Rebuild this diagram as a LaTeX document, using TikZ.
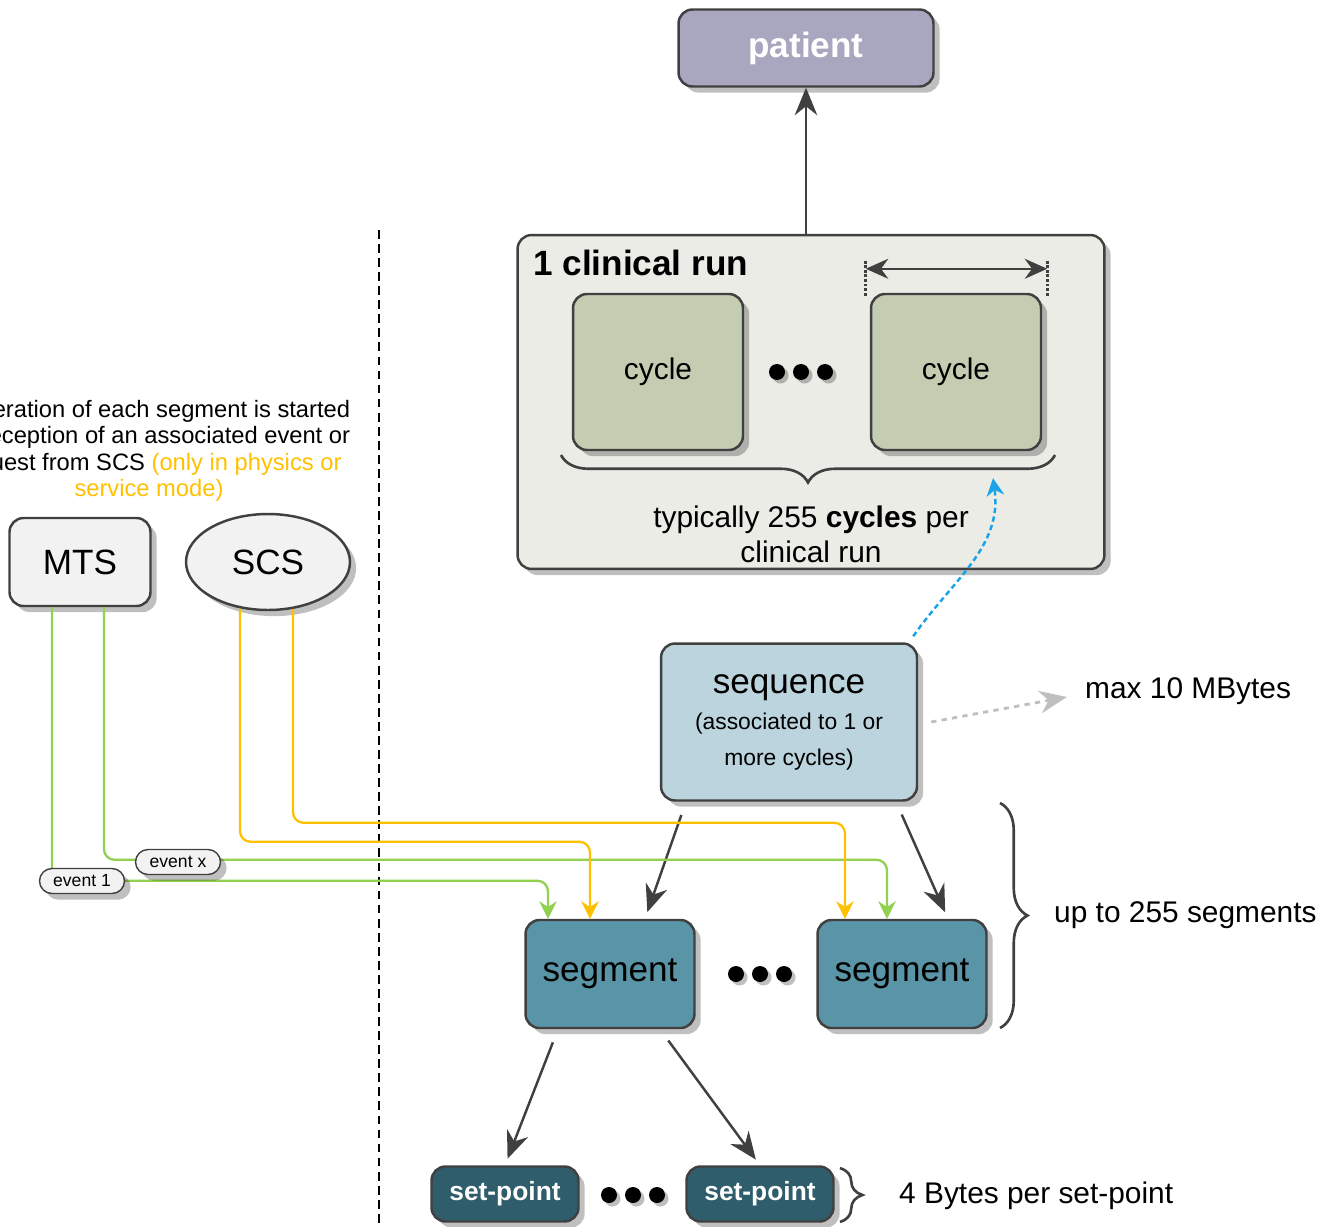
\documentclass[tikz,border=0pt]{standalone}
\usepackage{fontspec}
\setmainfont{Liberation Sans}
\usepackage{xcolor}
\usetikzlibrary{positioning,arrows.meta,shadows,shapes.geometric,decorations.pathreplacing,calc}

\definecolor{edge}{HTML}{404040}
\definecolor{lavender}{HTML}{A9A7BF}
\definecolor{runfill}{HTML}{EAECE5}
\definecolor{sage}{HTML}{C4CCB2}
\definecolor{seqblue}{HTML}{BCD4DD}
\definecolor{segteal}{HTML}{5A95A7}
\definecolor{setteal}{HTML}{2F5D6C}
\definecolor{srcgray}{HTML}{F2F2F2}
\definecolor{evgreen}{HTML}{92D050}
\definecolor{amber}{HTML}{FFC000}
\definecolor{skyblue}{HTML}{1AA3E8}

\begin{document}
\begin{tikzpicture}[
  x=0.02cm, y=-0.02cm,
  box/.style={draw=edge, line width=1.4pt, rounded corners=8pt, align=center, inner sep=0pt,
    drop shadow={shadow xshift=3.5pt, shadow yshift=-3.5pt, opacity=0.25, fill=black}},
  big/.style={font=\fontsize{20}{24}\selectfont},
  mid/.style={font=\fontsize{17}{20}\selectfont},
  dot/.style={circle, fill=black, inner sep=0pt, minimum size=0.32cm,
    drop shadow={shadow xshift=2pt, shadow yshift=-2pt, opacity=0.25, fill=black}},
  pill/.style={box, fill=srcgray, rounded corners=0.25cm, minimum width=1.7cm, minimum height=0.5cm,
    line width=0.8pt, font=\fontsize{10}{12}\selectfont},
  arr/.style={-{Stealth[length=5.5mm, width=4.5mm]}, line width=1.4pt, draw=edge},
  grn/.style={-{Stealth[length=3.5mm, width=3.5mm]}, line width=1.3pt, draw=evgreen, rounded corners=6pt},
  ylw/.style={-{Stealth[length=3.5mm, width=3.5mm]}, line width=1.3pt, draw=amber, rounded corners=6pt},
  brc/.style={decorate, decoration={brace, amplitude=0.55cm}, line width=1.5pt, draw=edge}
]
\useasboundingbox (0,0) rectangle (1323,1227);

% Hierarchy boxes
\node[box, fill=lavender, minimum width=5.1cm, minimum height=1.54cm, text=white,
      font=\bfseries\fontsize{20}{24}\selectfont] (patient) at (806,48) {patient};
\node[box, fill=runfill, minimum width=11.74cm, minimum height=6.68cm] (run) at (811,402) {};
\node[anchor=west, font=\bfseries\fontsize{20}{24}\selectfont] (runlbl) at (527,263) {1 clinical run};
\node[box, fill=sage, mid, minimum width=3.4cm, minimum height=3.12cm] (cycA) at (658,372) {cycle};
\node[box, fill=sage, mid, minimum width=3.4cm, minimum height=3.12cm] (cycB) at (956,372) {cycle};
\node[mid, align=center] (percyc) at (811,534) {typically 255 \textbf{cycles} per\\clinical run};

\node[box, fill=seqblue, minimum width=5.12cm, minimum height=3.14cm,
      font=\fontsize{13}{20}\selectfont] (seq) at (789,722)
  {\fontsize{20}{24}\selectfont sequence\\[1pt]
   \fontsize{13}{20}\selectfont (associated to 1 or\\more cycles)};
\node[mid, anchor=west] (mb) at (1079,691) {max 10 MBytes};

\node[box, fill=segteal, big, minimum width=3.38cm, minimum height=2.16cm] (segA) at (610,974) {segment};
\node[box, fill=segteal, big, minimum width=3.38cm, minimum height=2.16cm] (segB) at (902,974) {segment};
\node[mid, anchor=west] (upto) at (1048,915) {up to 255 segments};

\node[box, fill=setteal, text=white, minimum width=2.94cm, minimum height=1.1cm,
      font=\bfseries\fontsize{15}{18}\selectfont] (setA) at (505,1194) {set-point};
\node[box, fill=setteal, text=white, minimum width=2.94cm, minimum height=1.1cm,
      font=\bfseries\fontsize{15}{18}\selectfont] (setB) at (760,1194) {set-point};
\node[mid, anchor=west] (bytes) at (893,1196) {4 Bytes per set-point};

% Ellipsis dots
\foreach \n/\x/\y in {cyc/801/372, seg/760/974, set/633/1195}
  \foreach \i in {1,2,3}
    \node[dot] (\n\i) at (\x+\i*24-48,\y) {};

% Event sources
\node[box, fill=srcgray, big, minimum width=2.82cm, minimum height=1.76cm] (mts) at (80,562) {MTS};
\node[box, ellipse, fill=srcgray, big, minimum width=3.28cm, minimum height=1.92cm] (scs) at (268,562) {SCS};
\node[align=center, font=\fontsize{13.5}{15}\selectfont] (gen) at (149,451)
  {Generation of each segment is started\\on reception of an associated event or\\request from SCS \textcolor{amber}{(only in physics or}\\\textcolor{amber}{service mode)}};

% Separator
\draw[dash pattern=on 5pt off 3pt, line width=1pt] (379,230) -- (379,1227);

% Arrows
\draw[arr] (run.north -| patient.south) -- (patient.south);
\draw[arr, shorten <=8pt, shorten >=4pt] ($(seq.south)+(-103,0)$) -- ($(segA.north)+(35,0)$);
\draw[arr, shorten <=8pt, shorten >=4pt] ($(seq.south)+(107,0)$) -- ($(segB.north)+(46,0)$);
\draw[arr, shorten <=8pt, shorten >=4pt] ($(segA.south)+(-52,0)$) -- (setA.north);
\draw[arr, shorten <=8pt, shorten >=4pt] ($(segA.south)+(50,0)$) -- (setB.north);
\draw[-{Stealth[length=5.5mm, width=4.5mm]}, dashed, line width=1.6pt, draw=black!25]
  ($(seq.east)+(13,0)$) -- ($(mb.west)+(-12,6)$);
\coordinate (tip) at ($(cycB.south)+(37,27)$);
\draw[-{Stealth[length=3.5mm, width=3.5mm]}, densely dashed, line width=1.4pt, draw=skyblue]
  ($(seq.north east)+(-5,-6)$) to[out=55, in=-82] (tip);

% Cycle length marker
\draw[densely dotted, line width=1.6pt, edge] ($(cycB.north west)+(-4,-32)$) coordinate (dimL) -- +(0,36);
\draw[densely dotted, line width=1.6pt, edge] ($(cycB.north east)+(5,-32)$) coordinate (dimR) -- +(0,36);
\draw[{Stealth[length=4.5mm, width=4mm]}-{Stealth[length=4.5mm, width=4mm]}, line width=1.4pt, draw=edge]
  ($(dimL)+(0,8)$) -- ($(dimR)+(0,8)$);

% Braces
\draw[brc, decoration={mirror}] (561,455) -- (1055,455);
\draw[brc] (1000,803) -- (1000,1028);
\draw[brc, decoration={amplitude=0.45cm}] (840,1168) -- (840,1222);

% Event and request lines
\draw[grn] ($(mts.south)+(-28,0)$) |- ($(segA.north)+(-62,-38)$) -- ($(segA.north)+(-62,0)$);
\draw[grn] ($(mts.south)+(24,0)$) |- ($(segB.north)+(-15,-59)$) -- ($(segB.north)+(-15,0)$);
\draw[ylw] ($(scs.south)+(-28,-2)$) |- ($(segA.north)+(-20,-77)$) -- ($(segA.north)+(-20,0)$);
\draw[ylw] ($(scs.south)+(25,-2)$) |- ($(segB.north)+(-57,-96)$) -- ($(segB.north)+(-57,0)$);
\node[pill] (ev1) at (82,881) {event 1};
\node[pill] (evx) at (178,862) {event x};

\end{tikzpicture}
\end{document}
